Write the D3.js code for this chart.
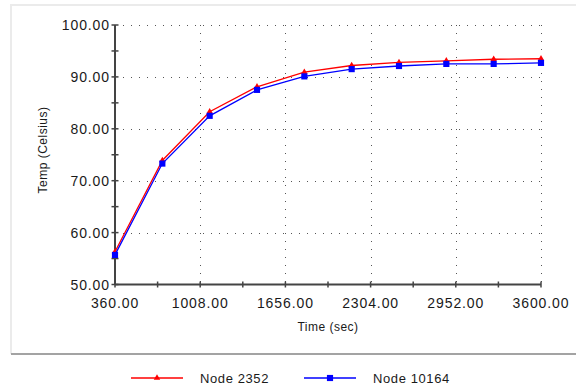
<!DOCTYPE html>
<html>
<head>
<meta charset="utf-8">
<script src="https://cdn.jsdelivr.net/npm/d3@7"></script>
<style>
  body { margin: 0; background: #fff; }
  text { font-family: "Liberation Sans", Arial, sans-serif; fill: #1a1a1a; }
</style>
</head>
<body>
<script>
// data
var times = [360, 720, 1080, 1440, 1800, 2160, 2520, 2880, 3240, 3600];
var node2352 = [56.3, 73.9, 83.3, 88.1, 90.9, 92.2, 92.8, 93.1, 93.4, 93.5];
var node10164 = [55.7, 73.3, 82.5, 87.5, 90.1, 91.5, 92.1, 92.5, 92.5, 92.7];
var xTicks = [360, 1008, 1656, 2304, 2952, 3600];
var yTicks = [50, 60, 70, 80, 90, 100];
var seriesNames = ["Node 2352", "Node 10164"];

var W = 576, H = 390;
var svg = d3.select("body").append("svg")
    .attr("width", W)
    .attr("height", H);

// panel frame
svg.append("path")
    .attr("d", "M11,354V5H576")
    .attr("fill", "none")
    .attr("stroke", "#ebebeb")
    .attr("stroke-width", 2);
svg.append("line")
    .attr("x1", 11).attr("x2", W)
    .attr("y1", 354).attr("y2", 354)
    .attr("stroke", "#a3a3a3")
    .attr("stroke-width", 2);

var x = d3.scaleLinear().domain([360, 3600]).range([115, 541]);
var y = d3.scaleLinear().domain([50, 100]).range([284.5, 25]);

// dotted grid
var grid = svg.append("g")
    .attr("stroke", "#555")
    .attr("stroke-width", 1)
    .attr("stroke-dasharray", "1,7");
grid.selectAll(".gy")
    .data(yTicks.slice(1))
    .enter().append("line")
    .attr("x1", x(360)).attr("x2", x(3600))
    .attr("y1", function(d) { return Math.round(y(d)) + 0.5; })
    .attr("y2", function(d) { return Math.round(y(d)) + 0.5; });
grid.selectAll(".gx")
    .data(xTicks.slice(1))
    .enter().append("line")
    .attr("y1", y(100)).attr("y2", y(50))
    .attr("x1", function(d) { return Math.round(x(d)) + 0.5; })
    .attr("x2", function(d) { return Math.round(x(d)) + 0.5; });

// axes: minor ticks at half steps, ticks crossing the axis line
var xMinor = d3.range(360, 3601, 324);
var yMinor = d3.range(50, 101, 5);
var axisColor = "#444";

var ax = svg.append("g").attr("stroke", axisColor);
ax.append("line")
    .attr("x1", x(360)).attr("x2", x(3600))
    .attr("y1", y(50)).attr("y2", y(50))
    .attr("stroke-width", 2);
ax.append("line")
    .attr("x1", x(360)).attr("x2", x(360))
    .attr("y1", y(100)).attr("y2", y(50))
    .attr("stroke-width", 2);
ax.selectAll(".tx")
    .data(xMinor)
    .enter().append("line")
    .attr("x1", function(d) { return x(d); })
    .attr("x2", function(d) { return x(d); })
    .attr("y1", y(50) - 3).attr("y2", y(50) + 3)
    .attr("stroke-width", 1.5);
ax.selectAll(".ty")
    .data(yMinor)
    .enter().append("line")
    .attr("y1", function(d) { return y(d); })
    .attr("y2", function(d) { return y(d); })
    .attr("x1", x(360) - 3.5).attr("x2", x(360) + 3.5)
    .attr("stroke-width", 1.5);

svg.selectAll(".xl")
    .data(xTicks)
    .enter().append("text")
    .attr("x", function(d) { return x(d); })
    .attr("y", 308)
    .attr("text-anchor", "middle")
    .attr("font-size", "14px")
    .attr("letter-spacing", "0.9px")
    .text(function(d) { return d3.format(".2f")(d); });

svg.selectAll(".yl")
    .data(yTicks)
    .enter().append("text")
    .attr("x", 110)
    .attr("y", function(d) { return y(d) + 5; })
    .attr("text-anchor", "end")
    .attr("font-size", "14px")
    .attr("letter-spacing", "0.9px")
    .text(function(d) { return d3.format(".2f")(d); });

svg.append("text")
    .attr("x", (x(360) + x(3600)) / 2)
    .attr("y", 331)
    .attr("text-anchor", "middle")
    .attr("font-size", "12px")
    .attr("letter-spacing", "0.5px")
    .text("Time (sec)");

svg.append("text")
    .attr("transform", "translate(47,150) rotate(-90)")
    .attr("text-anchor", "middle")
    .attr("font-size", "12px")
    .attr("letter-spacing", "0.5px")
    .text("Temp (Celsius)");

// series
var line = d3.line()
    .x(function(d) { return x(d[0]); })
    .y(function(d) { return y(d[1]); });

var tri = d3.symbol().type(d3.symbolTriangle).size(18);
var sq = d3.symbol().type(d3.symbolSquare).size(38);

var series = [
  {name: seriesNames[0], values: node2352, color: "#ff0000", symbol: tri},
  {name: seriesNames[1], values: node10164, color: "#0000ff", symbol: sq}
];

series.forEach(function(s) {
  var pts = times.map(function(t, i) { return [t, s.values[i]]; });
  svg.append("path")
      .datum(pts)
      .attr("d", line)
      .attr("fill", "none")
      .attr("stroke", s.color)
      .attr("stroke-width", 1.3);
  svg.selectAll(null)
      .data(pts)
      .enter().append("path")
      .attr("d", s.symbol)
      .attr("transform", function(d) {
        return "translate(" + x(d[0]) + "," + y(d[1]) + ")"; })
      .attr("fill", s.color);
});

// legend
var legend = svg.selectAll(".lg")
    .data(series)
    .enter().append("g")
    .attr("transform", function(d, i) {
      return "translate(" + (131 + i * 173) + ",378)"; });
legend.append("line")
    .attr("x1", 0).attr("x2", 52)
    .attr("stroke", function(d) { return d.color; })
    .attr("stroke-width", 1.3);
legend.append("path")
    .attr("transform", "translate(26,0)")
    .attr("d", function(d) { return d.symbol(); })
    .attr("fill", function(d) { return d.color; });
legend.append("text")
    .attr("x", 69)
    .attr("y", 5)
    .attr("font-size", "13px")
    .attr("letter-spacing", "0.6px")
    .text(function(d) { return d.name; });
</script>
</body>
</html>
